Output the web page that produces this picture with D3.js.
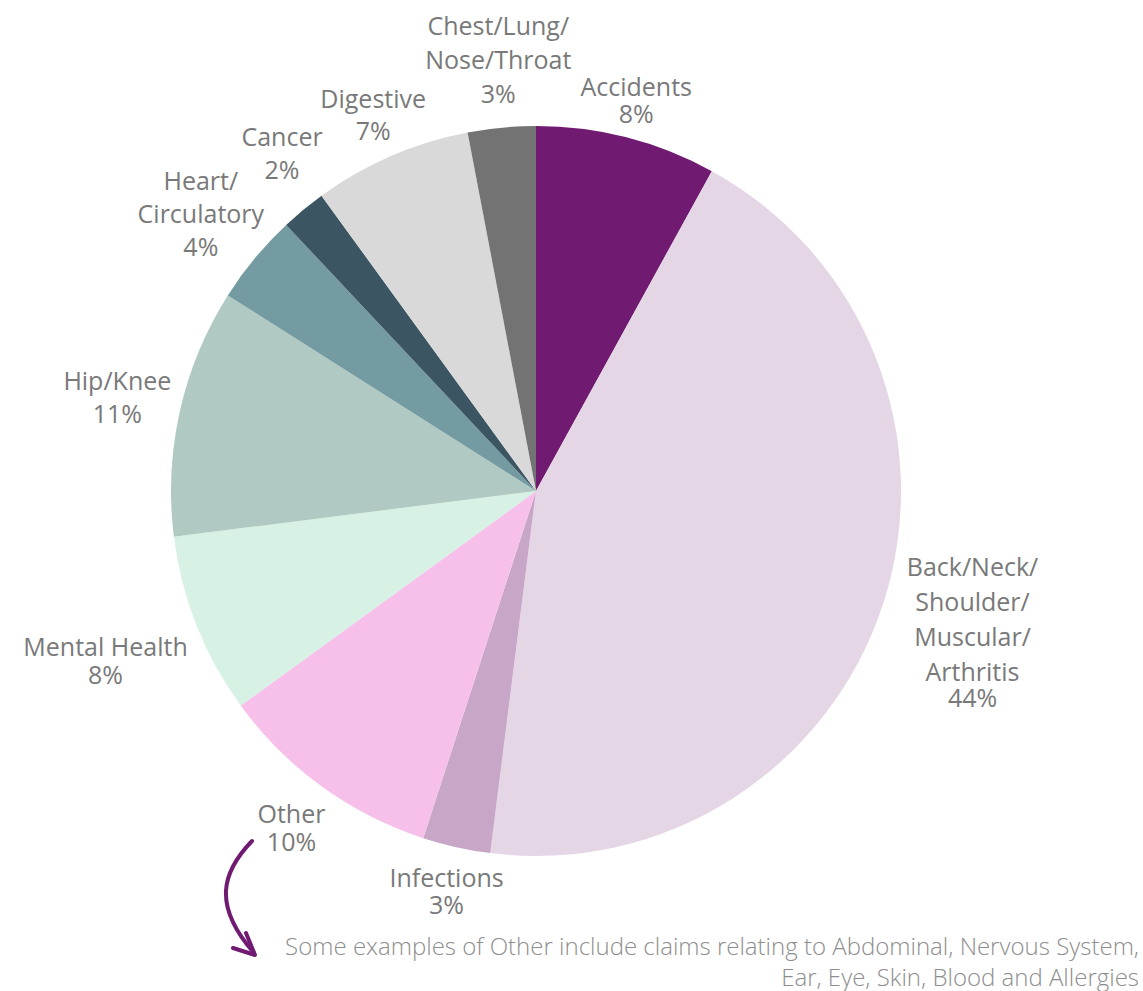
<!DOCTYPE html>
<html lang="en">
<head>
<meta charset="utf-8">
<title>Claims by cause</title>
<script src="https://d3js.org/d3.v7.min.js"></script>
<style>
  body { margin: 0; background: #fff; }
  svg { font-family: "Open Sans", sans-serif; }
  .lbl { fill: #797979; font-size: 25px; }
  .note { fill: #8e8e8e; font-size: 24px; font-weight: 300; }
</style>
</head>
<body>
<div id="chart"></div>
<script>
// data
var categories = ["Accidents", "Back/Neck/Shoulder/Muscular/Arthritis", "Infections", "Other",
                  "Mental Health", "Hip/Knee", "Heart/Circulatory", "Cancer", "Digestive",
                  "Chest/Lung/Nose/Throat"];
var labelLines = [["Accidents"], ["Back/Neck/", "Shoulder/", "Muscular/", "Arthritis"], ["Infections"],
                  ["Other"], ["Mental Health"], ["Hip/Knee"], ["Heart/", "Circulatory"], ["Cancer"],
                  ["Digestive"], ["Chest/Lung/", "Nose/Throat"]];
var values = [8, 44, 3, 10, 8, 11, 4, 2, 7, 3];
var colors = ["#701b71", "#e5d6e5", "#c8a6c8", "#f6c0ea", "#d8f1e5", "#b0cac3", "#749ba1", "#3b5562", "#d9d9d9", "#737373"];
var noteLines = ["Some examples of Other include claims relating to Abdominal, Nervous System,",
                 "Ear, Eye, Skin, Blood and Allergies"];

// label placement (radius from centre, angle nudge, line spacing, gap before %)
var labelLayout = [
  {r: 403, da: 0, lh: 27, pg: 27},
  {r: 459, da: 0, lh: 35, pg: 26},
  {r: 410, da: 0, lh: 27, pg: 27},
  {r: 416, da: 0, lh: 28, pg: 28},
  {r: 463, da: 0, lh: 28, pg: 28},
  {r: 429, da: 0, lh: 33, pg: 33},
  {r: 435, da: 0, lh: 33, pg: 33},
  {r: 422, da: 2.6, lh: 33, pg: 33},
  {r: 410, da: 0, lh: 32, pg: 32},
  {r: 433, da: 0.4, lh: 34, pg: 34}
];

var width = 1143, height = 991,
    cx = 536, cy = 491, radius = 365;

var svg = d3.select("#chart").append("svg")
    .attr("width", width)
    .attr("height", height);

var pie = d3.pie().sort(null).value(function(d) { return d; });
var arcs = pie(values);

var arc = d3.arc().innerRadius(0).outerRadius(radius);

var g = svg.append("g").attr("transform", "translate(" + cx + "," + cy + ")");

g.selectAll("path.slice")
    .data(arcs)
  .enter().append("path")
    .attr("class", "slice")
    .attr("d", arc)
    .attr("fill", function(d, i) { return colors[i]; });

// labels
var labels = g.selectAll("text.lbl")
    .data(arcs)
  .enter().append("text")
    .attr("class", "lbl")
    .attr("text-anchor", "middle")
    .each(function(d, i) {
      var L = labelLayout[i];
      var a = (d.startAngle + d.endAngle) / 2 + L.da * Math.PI / 180;
      var x = L.r * Math.sin(a), y = -L.r * Math.cos(a);
      var lines = labelLines[i].concat([values[i] + "%"]);
      var n = labelLines[i].length;
      var offs = lines.map(function(l, k) { return k < n ? k * L.lh : (n - 1) * L.lh + L.pg; });
      var mid = offs[offs.length - 1] / 2;
      var t = d3.select(this);
      lines.forEach(function(l, k) {
        t.append("tspan")
          .attr("x", x)
          .attr("y", y + offs[k] - mid)
          .attr("dy", "0.36em")
          .text(l);
      });
    });

// note
svg.append("text")
    .attr("class", "note")
    .attr("text-anchor", "end")
    .selectAll("tspan")
    .data(noteLines)
  .enter().append("tspan")
    .attr("x", 1139)
    .attr("y", function(d, i) { return 946 + i * 31; })
    .attr("dy", "0.36em")
    .text(function(d) { return d; });

// curved arrow
svg.append("path")
    .attr("d", "M252,841 C222,872 212,905 254,953")
    .attr("fill", "none")
    .attr("stroke", "#701b71")
    .attr("stroke-width", 4)
    .attr("stroke-linecap", "round");
svg.append("path")
    .attr("d", "M233,948 L255,955 L246,933")
    .attr("fill", "none")
    .attr("stroke", "#701b71")
    .attr("stroke-width", 4)
    .attr("stroke-linecap", "round")
    .attr("stroke-linejoin", "round");
</script>
</body>
</html>
